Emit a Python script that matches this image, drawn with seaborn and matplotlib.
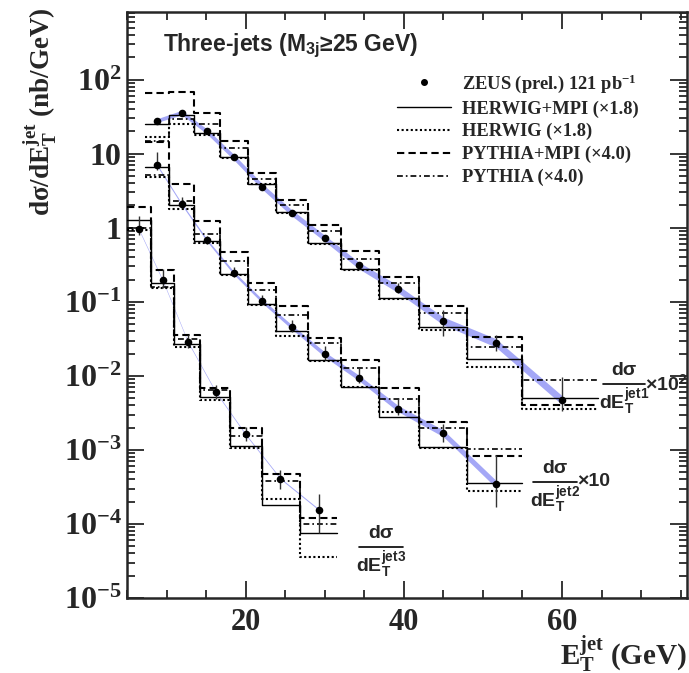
import numpy as np
import pandas as pd
import seaborn as sns
import matplotlib
matplotlib.use("Agg")
import matplotlib.pyplot as plt
from matplotlib.lines import Line2D
from matplotlib.ticker import FixedLocator, FuncFormatter, NullFormatter

sns.set_style("ticks")
plt.rcParams["font.family"] = ["Liberation Serif", "DejaVu Serif"]
plt.rcParams["font.weight"] = "bold"
plt.rcParams["mathtext.fontset"] = "custom"
plt.rcParams["mathtext.rm"] = "Liberation Serif:bold"
plt.rcParams["mathtext.bf"] = "Liberation Serif:bold"
plt.rcParams["mathtext.it"] = "Liberation Serif:italic:bold"
plt.rcParams["mathtext.sf"] = "Liberation Sans:bold"

# ---------------- data ----------------
# jet1 (x 10^2)
edges1 = [7.3, 10.3, 13.5, 16.8, 20.3, 23.9, 27.9, 32.0, 36.8, 41.9, 48.0, 55.0, 64.5]
jet1_x = [8.8, 11.9, 15.1, 18.5, 22.1, 25.8, 30.0, 34.3, 39.3, 45.0, 51.6, 60.0]
jet1_y = [28, 36, 20, 9.0, 3.6, 1.6, 0.72, 0.31, 0.148, 0.055, 0.028, 0.0047]
jet1_lo = [1.5, 1.5, 1.0, 0.45, 0.2, 0.09, 0.05, 0.03, 0.015, 0.02, 0.006, 0.0013]
jet1_hi = [2.0, 2.0, 1.2, 0.5, 0.25, 0.12, 0.06, 0.04, 0.032, 0.022, 0.008, 0.0049]
jet1_band = [1.06, 1.07, 1.08, 1.09, 1.09, 1.10, 1.10, 1.11, 1.12, 1.13, 1.14, 1.15]
jet1_herwig_mpi = [25, 33, 19.3, 9.0, 3.95, 1.63, 0.62, 0.275, 0.111, 0.046, 0.0168, 0.00505]
jet1_herwig = [17, 25, 17.8, 8.8, 3.9, 1.6, 0.6, 0.27, 0.108, 0.042, 0.0132, 0.00355]
jet1_pythia_mpi = [66, 69, 35, 15, 5.5, 2.4, 1.1, 0.48, 0.218, 0.088, 0.034, 0.0041]
jet1_pythia = [15, 29, 25, 12, 4.6, 2.0, 0.9, 0.376, 0.18, 0.07, 0.0242, 0.0089]

# jet2 (x 10)
edges2 = [7.3, 10.3, 13.5, 16.8, 20.3, 23.9, 27.9, 32.0, 36.8, 41.9, 48.0, 55.0]
jet2_x = [8.8, 11.9, 15.1, 18.5, 22.1, 25.9, 30.0, 34.3, 39.3, 45.0, 51.6]
jet2_y = [7.0, 2.1, 0.68, 0.245, 0.102, 0.045, 0.0195, 0.0094, 0.0036, 0.00167, 0.00035]
jet2_lo = [1.0, 0.25, 0.08, 0.03, 0.012, 0.006, 0.003, 0.0015, 0.0006, 0.0004, 0.00018]
jet2_hi = [3.5, 0.5, 0.1, 0.05, 0.02, 0.012, 0.006, 0.0035, 0.0012, 0.0006, 0.0005]
jet2_band = [1.03, 1.03, 1.04, 1.05, 1.06, 1.07, 1.08, 1.09, 1.10, 1.11, 1.12]
jet2_herwig_mpi = [6.6, 2.0, 0.66, 0.235, 0.092, 0.040, 0.0163, 0.0071, 0.00275, 0.0011, 0.000355]
jet2_herwig = [4.8, 1.82, 0.63, 0.23, 0.09, 0.035, 0.016, 0.007, 0.0032, 0.00105, 0.00028]
jet2_pythia_mpi = [14.5, 3.87, 1.24, 0.47, 0.182, 0.088, 0.0327, 0.0163, 0.0068, 0.0024, 0.00083]
jet2_pythia = [5.2, 2.3, 0.82, 0.36, 0.144, 0.066, 0.0275, 0.0126, 0.0048, 0.002, 0.00102]

# jet3
edges3 = [5.0, 8.0, 11.0, 14.2, 18.0, 22.1, 26.9, 31.5]
jet3_x = [6.5, 9.5, 12.7, 16.2, 20.0, 24.4, 29.3]
jet3_y = [0.95, 0.196, 0.0288, 0.0061, 0.00162, 0.00041, 0.000155]
jet3_lo = [0.15, 0.04, 0.005, 0.0012, 0.0003, 0.00011, 0.00008]
jet3_hi = [0.5, 0.08, 0.007, 0.0015, 0.0004, 0.00013, 0.000095]
jet3_band = [1.02, 1.02, 1.02, 1.02, 1.02, 1.02, 1.02]
jet3_herwig_mpi = [1.26, 0.18, 0.027, 0.0052, 0.00113, 0.00018, 0.000075]
jet3_herwig = [0.92, 0.156, 0.0245, 0.0047, 0.00105, 0.00022, 0.000036]
jet3_pythia_mpi = [1.91, 0.273, 0.036, 0.0069, 0.00195, 0.00048, 0.000119]
jet3_pythia = [1.0, 0.16, 0.031, 0.0064, 0.00154, 0.00038, 0.000099]

y_major = [1e-5, 1e-4, 1e-3, 1e-2, 1e-1, 1, 10, 100]
x_major = [20, 40, 60]

legend_labels = ["ZEUS (prel.) 121 pb$^{\\mathbf{-1}}$",
                 "HERWIG+MPI (\u00d71.8)",
                 "HERWIG (\u00d71.8)",
                 "PYTHIA+MPI (\u00d74.0)",
                 "PYTHIA (\u00d74.0)"]

W, H = 689, 673
fig = plt.figure(figsize=(W / 100, H / 100), dpi=100)
ax = fig.add_axes([127 / W, 1 - 598 / H, 560 / W, 586 / H])

def fpos(px, py):
    return px / W, 1 - py / H

band_col = "#a4a7f6"
styles = {
    "herwig_mpi": dict(ls="-", lw=1.0),
    "herwig": dict(ls=(0, (1, 1.2)), lw=1.5),
    "pythia_mpi": dict(ls=(0, (3.5, 2)), lw=1.5),
    "pythia": dict(ls=(0, (3.5, 1.8, 1, 1.8)), lw=1.2),
}

sets = [
    (edges1, jet1_x, jet1_y, jet1_lo, jet1_hi, jet1_band,
     dict(herwig_mpi=jet1_herwig_mpi, herwig=jet1_herwig,
          pythia_mpi=jet1_pythia_mpi, pythia=jet1_pythia)),
    (edges2, jet2_x, jet2_y, jet2_lo, jet2_hi, jet2_band,
     dict(herwig_mpi=jet2_herwig_mpi, herwig=jet2_herwig,
          pythia_mpi=jet2_pythia_mpi, pythia=jet2_pythia)),
    (edges3, jet3_x, jet3_y, jet3_lo, jet3_hi, jet3_band,
     dict(herwig_mpi=jet3_herwig_mpi, herwig=jet3_herwig,
          pythia_mpi=jet3_pythia_mpi, pythia=jet3_pythia)),
]

for edges, xs, ys, lo, hi, band, mc in sets:
    ys_a = np.array(ys)
    bw = np.array(band)
    ax.fill_between(xs, ys_a / bw, ys_a * bw, color=band_col, lw=0, zorder=1)
    for key, vals in mc.items():
        df = pd.DataFrame({"x": edges, "y": list(vals) + [vals[-1]]})
        sns.lineplot(data=df, x="x", y="y", ax=ax, color="k",
                     drawstyle="steps-post", estimator=None, sort=False,
                     zorder=3, **styles[key])
    ax.errorbar(xs, ys, yerr=[lo, hi], fmt="none", ecolor="#333333",
                elinewidth=1.0, capsize=0, zorder=4)
    sns.scatterplot(x=xs, y=ys, ax=ax, color="k", s=30, edgecolor="k",
                    linewidth=0, zorder=5)

ax.set_yscale("log")
ax.set_xlim(5, 75.8)
ax.set_ylim(1e-5, 8.2e2)
ax.set_xlabel("")
ax.set_ylabel("")
ax.xaxis.label.set_visible(False)
ax.yaxis.label.set_visible(False)

ax.xaxis.set_major_locator(FixedLocator(x_major))
ax.xaxis.set_minor_locator(FixedLocator(np.arange(5, 76, 5)))
ax.yaxis.set_major_locator(FixedLocator(y_major))
ax.yaxis.set_minor_locator(FixedLocator(
    [m * 10.0 ** e for e in range(-5, 3) for m in range(2, 10) if m * 10.0 ** e < 8.2e2]))
ax.yaxis.set_minor_formatter(NullFormatter())

def yfmt(v, pos):
    e = int(round(np.log10(v)))
    if e == 0:
        return "1"
    if e == 1:
        return "10"
    return r"$\mathbf{10^{%d}}$" % e

ax.yaxis.set_major_formatter(FuncFormatter(yfmt))
ax.tick_params(which="both", direction="in", top=True, right=True, width=1.3)
ax.tick_params(which="major", length=12.5)
ax.tick_params(which="minor", length=6)
ax.tick_params(axis="y", labelsize=23, pad=4)
ax.tick_params(axis="x", labelsize=22, pad=7)
for lab in ax.get_xticklabels() + ax.get_yticklabels():
    lab.set_fontweight("bold")
for s in ax.spines.values():
    s.set_linewidth(1.8)

# axis titles
fig.text(*fpos(40, 112), "d\u03c3/dE$_\\mathbf{T}^\\mathbf{jet}$ (nb/GeV)",
         rotation=90, ha="center", va="center", fontsize=19.5, fontweight="bold")
fig.text(*fpos(687, 654), "E$_\\mathbf{T}^\\mathbf{jet}$ (GeV)",
         ha="right", va="center", fontsize=21, fontweight="bold")

# title
fig.text(*fpos(163, 45), "Three-jets (M$_\\mathsf{3j}$\u226525 GeV)",
         ha="left", va="center", fontsize=16.5, fontweight="bold",
         family="Liberation Sans")

# legend
handles = [Line2D([], [], marker="o", ms=4, color="k", ls="none")]
for key in ["herwig_mpi", "herwig", "pythia_mpi", "pythia"]:
    handles.append(Line2D([], [], color="k", **styles[key]))
leg = ax.legend(handles, legend_labels, loc="upper left",
                bbox_to_anchor=fpos(388, 63), bbox_transform=fig.transFigure,
                frameon=False, handlelength=2.9,
                handletextpad=0.6, labelspacing=0.3, borderpad=0,
                prop=dict(family="Liberation Serif", weight="bold", size=13.3))

# fraction labels
def frac(xc, y_line, half, sup, mult=None):
    fig.text(*fpos(xc, y_line - 5), "d\u03c3", ha="center", va="bottom",
             fontsize=14, fontweight="bold", family="Liberation Sans")
    fig.text(*fpos(xc, y_line + 3), "dE$_\\mathsf{T}^\\mathsf{%s}$" % sup,
             ha="center", va="top", fontsize=14, fontweight="bold",
             family="Liberation Sans")
    x0, y0 = fpos(xc - half, y_line)
    x1, _ = fpos(xc + half, y_line)
    fig.add_artist(Line2D([x0, x1], [y0, y0], color="k", lw=1.2,
                          transform=fig.transFigure))
    if mult:
        fig.text(*fpos(xc + half, y_line), mult, ha="left", va="center",
                 fontsize=14, fontweight="bold", family="Liberation Sans")

frac(624, 384, 21, "jet1", "\u00d710$^\\mathsf{2}$")
frac(555, 482, 22, "jet2", "\u00d710")
frac(381, 547, 22, "jet3")

fig.savefig("out.png", dpi=100)
